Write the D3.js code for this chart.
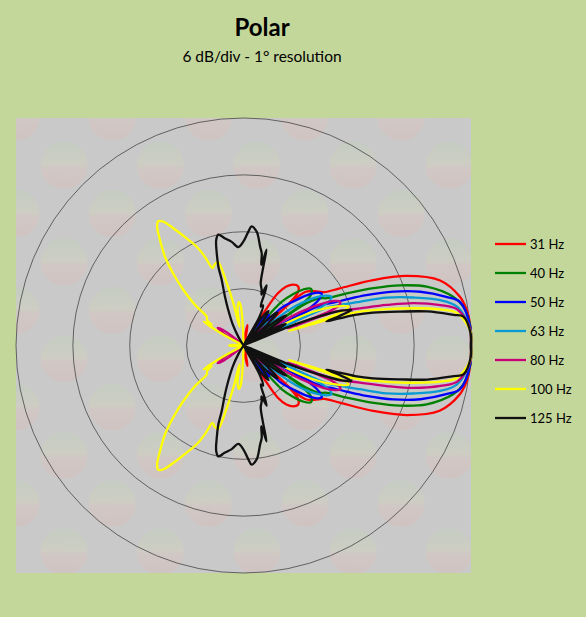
<!DOCTYPE html>
<html><head><meta charset="utf-8">
<script src="https://cdn.jsdelivr.net/npm/d3@7"></script>
<style>body{margin:0;background:#c4d79b;} svg{display:block}</style>
</head><body>
<svg id="c" width="586" height="617"></svg>
<script>
// ---- data: [angle in degrees (0 = front, CCW), level in dB re. on-axis], upper half (pattern symmetric)
const hz31 = [[0,0],[5.6,0],[9,-0.15],[12.7,-0.6],[18.4,-2.2],[23.1,-5.3],[26.8,-8.7],[30.7,-12.2],[33.5,-13.8],[37.5,-14.6],[41,-15.4],[41.8,-21.5],[42.6,-17.5],[44.5,-15.9],[47.4,-15.5],[50.8,-15.7],[54,-16.3],[56.7,-17.4],[58.2,-19.8],[59.5,-26],[73,-26],[76,-23],[79,-21.8],[82,-23],[85,-26],[180,-26]];
const hz40 = [[0,0],[5,0],[10,-0.45],[13.1,-1.3],[17.8,-3.7],[21,-6.3],[23.8,-9],[26.8,-11.8],[29.6,-13.9],[32,-14.6],[33.8,-16],[34.5,-22],[35.3,-16.5],[37,-15.1],[40,-14.7],[43,-15.3],[46,-16.5],[48.8,-17.9],[50.5,-20.5],[52,-26],[180,-26]];
const hz50 = [[0,0],[4.7,0],[11.4,-0.7],[13.5,-2],[16.9,-4.5],[19.8,-7.2],[22.3,-10],[24.1,-12.1],[25.5,-13.5],[27,-14.4],[28,-15.5],[28.7,-21],[29.5,-16],[31.5,-14.6],[33.5,-14.1],[35.5,-14.4],[38.5,-15.5],[41.5,-17],[44.8,-18.4],[46,-23],[47.5,-20.5],[50,-19.8],[53,-20.3],[56,-22],[58,-26],[180,-26]];
const hz63 = [[0,0],[4,0],[10.3,-1.1],[13,-2.7],[15.8,-5.4],[18.5,-8.1],[20.6,-10.9],[22.8,-13],[24.3,-14.2],[25,-20],[25.8,-15.5],[27.5,-13.7],[29,-13.4],[31,-13.8],[34,-15],[37,-17],[39,-19.5],[40.5,-26],[42,-22],[45,-20.5],[49,-21],[52,-26],[180,-26]];
const hz80 = [[0,0],[4,0],[9.5,-1.1],[11.6,-2.8],[14,-5.5],[15.8,-8.3],[17.7,-11.1],[19,-12.5],[20.2,-13.6],[21,-19],[21.8,-14],[23,-13],[24.4,-12.8],[26.5,-13.5],[29,-15.5],[31.5,-18.5],[33.5,-26],[36,-22],[39,-20.5],[43,-21.5],[46,-26],[136,-26],[140,-23],[143,-21.3],[145.7,-20.7],[148.5,-21.5],[151,-24],[154,-26],[173,-26],[176,-23.3],[180,-22.6]];
const hz100 = [[0,0],[3.5,0],[8.6,-1.2],[10.4,-2.9],[12.4,-5.7],[14.2,-8.4],[16.2,-11.2],[17,-13],[17.8,-19],[18.6,-13.5],[20.3,-12.2],[23,-13.5],[26,-16],[28,-19.5],[30,-26],[90,-26],[92,-22],[94,-19.8],[96,-19.4],[99,-20],[102,-22],[103.5,-19.5],[105,-17.2],[107,-14.8],[109.5,-14.9],[111.8,-15.2],[113.5,-13.8],[115.3,-12.5],[118,-11.2],[121,-9.5],[123,-8.4],[124.5,-8.1],[126,-8.5],[128,-9.6],[130,-10.7],[131.5,-11.5],[134.5,-13.5],[137.3,-15.4],[140,-17.3],[142,-19.1],[145,-19.3],[147,-20],[149,-19.1],[151,-21],[153,-26],[174,-26],[177,-22.8],[180,-22.5]];
const hz125 = [[0,0],[3,0],[7.5,-0.6],[8.3,-1.6],[10.5,-4.3],[12.2,-7.1],[14.2,-9.9],[15.3,-11.8],[15.8,-13.5],[16.2,-14.9],[17,-13.6],[18.2,-12],[19.5,-13],[21,-15.5],[22.5,-19],[23.5,-25],[25,-21],[27,-19],[29,-20],[31,-25],[33,-20.5],[35,-18.5],[37,-19.5],[39,-25],[41,-21],[44,-19],[47,-20],[49,-25],[51,-21],[54,-19.5],[57,-20.5],[59,-24],[61,-20.5],[64,-19.3],[66,-19.5],[68,-18],[69,-17.2],[70.5,-18.3],[72,-17.8],[74.5,-17.2],[75.8,-15.6],[76.5,-13.6],[77.5,-15.3],[78.8,-14.1],[80.5,-13.4],[82.3,-12.4],[83.4,-11.9],[86.1,-11.4],[87.6,-12],[90.1,-13.05],[93,-13.6],[96.5,-13],[100,-12.5],[102.8,-12],[104.5,-12.5],[106.2,-13.9],[107.7,-15.3],[108.4,-16.7],[110.8,-18.5],[113.2,-19.9],[117,-21.5],[121,-23],[125,-26],[180,-26]];

const seriesNames = ["31 Hz","40 Hz","50 Hz","63 Hz","80 Hz","100 Hz","125 Hz"];
const seriesData = [hz31, hz40, hz50, hz63, hz80, hz100, hz125];
const gridLevels = [-18, -12, -6, 0];
const title = "Polar";
const subtitle = "6 dB/div - 1° resolution";

// ---- styles
const colors = ["#ff0000","#008000","#0000ff","#0a9bd4","#c8007a","#ffff00","#111111"];
const cx = 243.5, cy = 345.5, R = 227.5;

const svg = d3.select("#c");
const defs = svg.append("defs");
const grad = defs.append("linearGradient").attr("id","lg").attr("x1",0).attr("y1",0).attr("x2",0).attr("y2",1);
grad.append("stop").attr("offset","0%").attr("stop-color","#c0d0b8");
grad.append("stop").attr("offset","48%").attr("stop-color","#d2d2bc");
grad.append("stop").attr("offset","56%").attr("stop-color","#dac4be");
grad.append("stop").attr("offset","100%").attr("stop-color","#d8bdb8");
const pat = defs.append("pattern").attr("id","wm").attr("patternUnits","userSpaceOnUse")
  .attr("x",16).attr("y",117).attr("width",96.3).attr("height",96.6);
pat.append("rect").attr("width",96.3).attr("height",96.6).attr("fill","#c9c9c9");
[[48.15,48.3],[0,0],[96.3,0],[0,96.6],[96.3,96.6]].forEach(p=>{
  pat.append("circle").attr("cx",p[0]).attr("cy",p[1]).attr("r",23.5).attr("fill","url(#lg)").attr("opacity",0.45);
});

svg.append("rect").attr("x",16).attr("y",118).attr("width",455).attr("height",455).attr("fill","url(#wm)");

svg.append("text").attr("x",262).attr("y",36).attr("text-anchor","middle")
  .style("font-family","Lato, 'Open Sans', sans-serif").style("font-weight","bold").style("font-size","24px").attr("fill","#000").text(title);
svg.append("text").attr("x",262).attr("y",62).attr("text-anchor","middle")
  .style("font-family","Lato, 'Open Sans', sans-serif").style("font-size","15.5px").attr("fill","#000").text(subtitle);

const r = d3.scaleLinear().domain([-24, 0]).range([0, R]).clamp(true);
const g = svg.append("g").attr("transform",`translate(${cx},${cy})`);

g.selectAll("circle.grid").data(gridLevels).join("circle").attr("class","grid")
  .attr("r", d => r(d)).attr("fill","none").attr("stroke","#555").attr("stroke-width",0.9);

const full = s => s.concat(s.filter(d => d[0] > 0 && d[0] < 180).map(d => [-d[0], d[1]]).reverse());
const line = d3.lineRadial()
  .angle(d => (90 - d[0]) * Math.PI / 180)
  .radius(d => r(d[1]))
  .curve(d3.curveCatmullRomClosed.alpha(0.5));

g.selectAll("path.curve").data(seriesData).join("path").attr("class","curve")
  .attr("d", d => line(full(d)))
  .attr("fill","none").attr("stroke",(d,i)=>colors[i]).attr("stroke-width",2.3).attr("stroke-linejoin","round");

const lg = svg.append("g");
seriesNames.forEach((n,i)=>{
  const y = 244 + i*29;
  lg.append("line").attr("x1",495).attr("x2",526).attr("y1",y).attr("y2",y).attr("stroke",colors[i]).attr("stroke-width",2.3);
  lg.append("text").attr("x",530).attr("y",y+4.6).style("font-family","Lato, 'Open Sans', sans-serif").style("font-size","13px").attr("fill","#000").text(n);
});
</script>
</body></html>
